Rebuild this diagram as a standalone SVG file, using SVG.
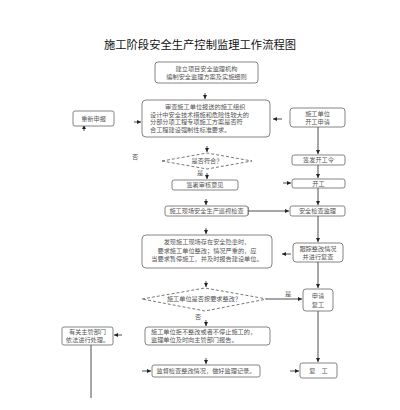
<svg xmlns="http://www.w3.org/2000/svg" width="400" height="410" viewBox="0 0 400 410">
<defs>
<marker id="ah" viewBox="0 0 6 6" refX="6" refY="3" markerWidth="4" markerHeight="4" orient="auto" markerUnits="userSpaceOnUse">
<path d="M0,0 L6,3 L0,6 z" fill="#222"/>
</marker>
</defs>
<style>
.bx{fill:#fff;stroke:#666;stroke-width:0.8}
.dm{fill:#fff;stroke:#555;stroke-width:0.8;stroke-dasharray:3 2}
.t{font-family:"Noto Sans CJK SC","Noto Sans",sans-serif;font-size:6.2px;fill:#555}
.c{text-anchor:middle}
.ln{stroke:#222;stroke-width:0.8;fill:none}
.st{stroke:#222;stroke-width:0.8;fill:none;marker-end:url(#ah)}
.title{font-family:"Noto Sans CJK SC","Noto Sans",sans-serif;font-size:11.3px;fill:#111;text-anchor:middle}
</style>
<rect width="400" height="410" fill="#fff"/>
<text class="title" x="200" y="49">施工阶段安全生产控制监理工作流程图</text>

<g id="connectors">
<path class="st" d="M205,93 L205,99"/>
<path class="st" d="M207,146 L207,152"/>
<path class="st" d="M207,173 L207,179"/>
<path class="st" d="M206,199 L206,205"/>
<path class="st" d="M206,228 L206,234"/>
<path class="st" d="M206,281 L206,287"/>
<path class="st" d="M206,320 L206,326"/>
<path class="st" d="M206,358 L206,364"/>
<path class="st" d="M282,119 L273,119"/>
<path class="st" d="M134,122 L141,122"/>
<path class="st" d="M84,131 L84,125"/>
<path class="st" d="M318,127 L318,154"/>
<path class="st" d="M318,165 L318,178"/>
<path class="st" d="M283,183 L291,183"/>
<path class="st" d="M318,188 L318,205"/>
<path class="ln" d="M248,207 L248,215"/>
<path class="st" d="M248,211 L289,211"/>
<path class="st" d="M318,216 L318,242"/>
<path class="st" d="M291,254 L282,254"/>
<path class="st" d="M318,262 L318,288"/>
<path class="st" d="M267,299 L302,299"/>
<path class="st" d="M318,311 L318,362"/>
<path class="st" d="M122,335 L114,335"/>
<path class="ln" d="M91,345 L91,398"/>
<path class="st" d="M142,371 L151,371"/>
<path class="st" d="M290,371 L299,371"/>
<text class="t" x="132" y="159">否</text>
<text class="t" x="197" y="175">是</text>
<text class="t" x="285" y="296">是</text>
<text class="t" x="195" y="319">否</text>
</g>

<g id="n1">
<rect class="bx" x="155" y="62" width="103" height="21" rx="3"/>
<text class="t c" x="206.5" y="71">建立项目安全监理机构</text>
<text class="t c" x="206.5" y="78.5">编制安全监理方案及实施细则</text>
</g>

<g id="n2">
<rect class="bx" x="142" y="100" width="128" height="37" rx="4"/>
<text class="t" x="165" y="109">审查施工单位报送的施工组织</text>
<text class="t" x="150" y="116.5">设计中安全技术措施和危险性较大的</text>
<text class="t" x="150" y="124">分部分项工程专项施工方案是否符</text>
<text class="t" x="150" y="131.5">合工程建设强制性标准要求。</text>
</g>

<g id="n3">
<rect class="bx" x="73" y="111" width="41" height="15" rx="2"/>
<text class="t c" x="93.5" y="120.5">重新申报</text>
</g>

<g id="n4">
<rect class="bx" x="290" y="108" width="55" height="19" rx="3"/>
<text class="t c" x="317.5" y="116">施工单位</text>
<text class="t c" x="317.5" y="123.5">开工申请</text>
</g>

<g id="n5">
<polygon class="dm" points="162,161 207,153 252,161 207,169"/>
<text class="t c" x="207" y="163.3">是否符合？</text>
</g>

<g id="n6">
<rect class="bx" x="172" y="180" width="66" height="10" rx="2"/>
<text class="t c" x="205" y="187.3">签署审核意见</text>
</g>

<g id="n7">
<rect class="bx" x="292" y="155" width="53" height="10" rx="2"/>
<text class="t c" x="318.5" y="162.3">签发开工令</text>
</g>

<g id="n8">
<rect class="bx" x="292" y="179" width="53" height="9" rx="2"/>
<text class="t c" x="318.5" y="185.8">开工</text>
</g>

<g id="n9">
<rect class="bx" x="165" y="206" width="83" height="10" rx="2"/>
<text class="t c" x="206.5" y="213.3">施工现场安全生产巡视检查</text>
</g>

<g id="n10">
<rect class="bx" x="290" y="206" width="55" height="10" rx="2"/>
<text class="t c" x="317.5" y="213.3">安全检查监理</text>
</g>

<g id="n11">
<rect class="bx" x="142" y="235" width="130" height="33" rx="4"/>
<text class="t c" x="207" y="244">发现施工现场存在安全隐患时，</text>
<text class="t c" x="207" y="252.5">要求施工单位整改；情况严重的，应</text>
<text class="t c" x="207" y="261">当要求暂停施工，并及时报告建设单位。</text>
</g>

<g id="n12">
<rect class="bx" x="293" y="243" width="50" height="19" rx="3"/>
<text class="t c" x="318" y="250.5">跟踪整改情况</text>
<text class="t c" x="318" y="258.5">并进行复查</text>
</g>

<g id="n13">
<polygon class="dm" points="142,299 205,288 267,299 205,311"/>
<text class="t c" x="204" y="301.3">施工单位是否按要求整改？</text>
</g>

<g id="n14">
<rect class="bx" x="303" y="289" width="30" height="22" rx="3"/>
<text class="t c" x="318" y="298">申请</text>
<text class="t c" x="318" y="306.5">复工</text>
</g>

<g id="n15">
<rect class="bx" x="145" y="327" width="125" height="18" rx="3"/>
<text class="t" x="151" y="334">施工单位拒不整改或者不停止施工的，</text>
<text class="t" x="151" y="341.5">监理单位及时向主管部门报告。</text>
</g>

<g id="n16">
<rect class="bx" x="62" y="327" width="51" height="18" rx="2"/>
<text class="t c" x="87.5" y="334">有关主管部门</text>
<text class="t c" x="87.5" y="341.5">依法进行处理。</text>
</g>

<g id="n17">
<rect class="bx" x="152" y="365" width="108" height="12" rx="2"/>
<text class="t c" x="206" y="373.3">监督检查整改情况，做好监理记录。</text>
</g>

<g id="n18">
<rect class="bx" x="300" y="363" width="37" height="15" rx="2"/>
<text class="t c" x="318.5" y="372.8">复　工</text>
</g>
</svg>
